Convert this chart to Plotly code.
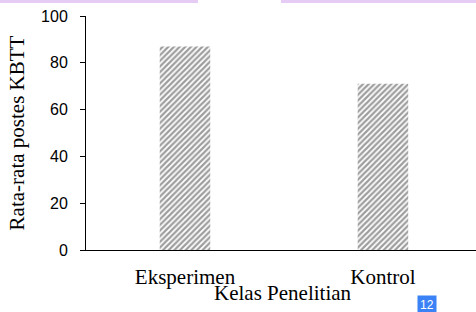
import plotly.graph_objects as go

categories = ["Eksperimen", "Kontrol"]
values = [87, 71]
y_ticks = [0, 20, 40, 60, 80, 100]

fig = go.Figure()
fig.add_trace(go.Bar(
    x=categories, y=values, width=0.255,
    marker=dict(color="white", line=dict(width=0),
                pattern=dict(shape="/", fgcolor="#3c3c3c", bgcolor="white",
                             size=4, solidity=0.55)),
))

serif = "Liberation Serif"
fig.update_layout(
    width=476, height=312,
    margin=dict(l=86, r=0, t=16, b=62),
    plot_bgcolor="white", paper_bgcolor="white",
    showlegend=False,
    xaxis=dict(
        automargin=False,
        range=[-0.5, 1.47],
        showline=True, linecolor="black", linewidth=1,
        ticks="", showgrid=False,
        tickfont=dict(family=serif, size=21, color="black"),
        ticklabelstandoff=8,
    ),
    yaxis=dict(
        automargin=False,
        range=[0, 100], tickvals=y_ticks,
        showline=True, linecolor="black", linewidth=1,
        ticks="outside", ticklen=5, tickcolor="black",
        showgrid=False, zeroline=False,
        tickfont=dict(family="Liberation Sans", size=16, color="black"),
        ticklabelstandoff=9,
        title=dict(text="Rata-rata postes KBTT", standoff=10,
                   font=dict(family=serif, size=21, color="black")),
    ),
    shapes=[
        dict(type="rect", xref="paper", yref="paper", x0=-86/390, x1=112/390,
             y0=1+13/234, y1=1+16/234, fillcolor="#e6ccf5", line=dict(width=0), layer="above"),
        dict(type="rect", xref="paper", yref="paper", x0=195/390, x1=1,
             y0=1+13/234, y1=1+16/234, fillcolor="#e6ccf5", line=dict(width=0), layer="above"),
    ],
    annotations=[
        dict(text="Kelas Penelitian", xref="paper", yref="paper",
             x=(283-86)/390, y=-43/234, showarrow=False, yanchor="middle",
             font=dict(family=serif, size=21, color="black")),
        dict(text="12", xref="paper", yref="paper", x=(437-86)/390, y=-(55/234),
             showarrow=False, font=dict(family="Liberation Sans", size=12, color="white"),
             bgcolor="#3b82f6", borderpad=2, yanchor="middle"),
    ],
)

fig.write_html("out.html", config={"displayModeBar": False},
               post_script="document.body.style.margin='0';document.body.style.overflow='hidden';")
